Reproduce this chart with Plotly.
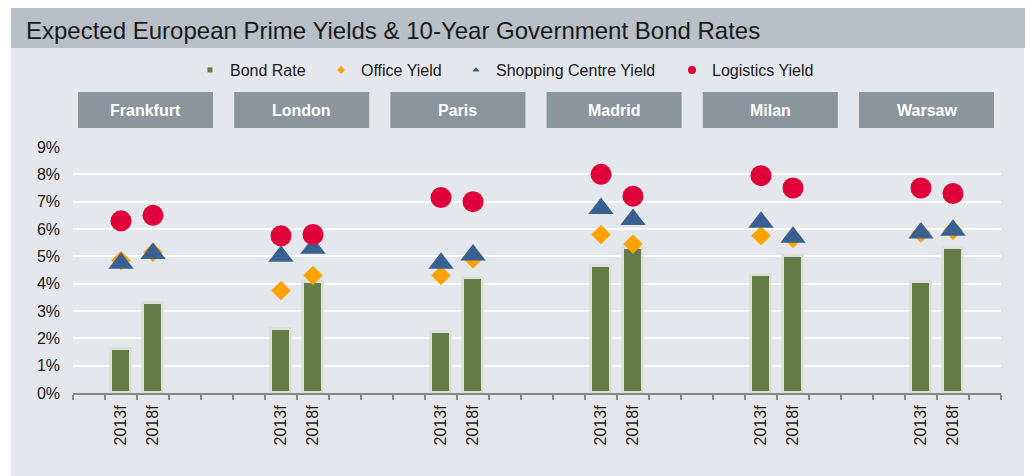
import plotly.graph_objects as go

# ---- data -------------------------------------------------------------
cities = ["Frankfurt", "London", "Paris", "Madrid", "Milan", "Warsaw"]
periods = ["2013f", "2018f"]

# values in percent, ordered city by city, 2013f then 2018f
bond_rate = [1.6, 3.3, 2.35, 4.05, 2.25, 4.2, 4.65, 5.3, 4.3, 5.0, 4.05, 5.3]
office_yield = [4.85, 5.15, 3.75, 4.3, 4.3, 4.9, 5.8, 5.45, 5.75, 5.65, 5.85, 5.95]
shopping_centre_yield = [4.75, 5.1, 5.0, 5.3, 4.75, 5.05, 6.75, 6.35, 6.25, 5.7, 5.85, 5.95]
logistics_yield = [6.3, 6.5, 5.75, 5.8, 7.15, 7.0, 8.0, 7.2, 7.95, 7.5, 7.5, 7.3]

y_ticks = [0, 1, 2, 3, 4, 5, 6, 7, 8, 9]
y_tick_labels = [f"{v}%" for v in y_ticks]

# ---- styling ----------------------------------------------------------
FONT = "Liberation Sans, Arial, sans-serif"
GREEN = "#647d46"
GLOW = "#dce1dc"
ORANGE = "#ffa200"
BLUE = "#386191"
RED = "#e0003a"
AXIS = "#8c8580"
PANEL = "#e4e7ec"
TITLE_BAR = "#b8bfc6"
CITY_BOX = "#8a959e"
TEXT = "#1a1a1a"

W, H = 1027, 476
ML, MR, MT, MB = 73, 26, 147, 83
PW, PH = W - ML - MR, H - MT - MB


def px_x(x):
    return (x - ML) / PW


def px_y(y):
    return (H - MB - y) / PH


# each city occupies five slots: spacer, 2013f, 2018f, spacer, spacer
SLOTS = 5
x_pos = [SLOTS * g + k + 1 for g in range(len(cities)) for k in range(len(periods))]
x_labels = periods * len(cities)
n_slots = SLOTS * len(cities) - 1

fig = go.Figure()

fig.add_bar(
    x=x_pos, y=bond_rate, width=0.62, name="Bond Rate",
    marker=dict(color=GREEN, line=dict(color=GLOW, width=3)),
    showlegend=False,
)
fig.add_scatter(
    x=x_pos, y=office_yield, mode="markers", name="Office Yield",
    marker=dict(symbol="diamond", size=15, color=ORANGE, line=dict(width=0)),
    showlegend=False,
)
fig.add_scatter(
    x=x_pos, y=shopping_centre_yield, mode="markers", name="Shopping Centre Yield",
    marker=dict(symbol="triangle-up", size=22, color=BLUE, line=dict(width=0)),
    showlegend=False,
)
fig.add_scatter(
    x=x_pos, y=logistics_yield, mode="markers", name="Logistics Yield",
    marker=dict(symbol="circle", size=21, color=RED, line=dict(width=0)),
    showlegend=False,
)

# legend entries, each in its own legend so they can be spaced freely
legend_items = [
    ("Bond Rate", "square", 5, GREEN, "legend", 231),
    ("Office Yield", "diamond", 6, ORANGE, "legend2", 362),
    ("Shopping Centre Yield", "triangle-up", 6, BLUE, "legend3", 497),
    ("Logistics Yield", "circle", 8, RED, "legend4", 713),
]
legend_layout = {}
for name, sym, size, color, leg, text_px in legend_items:
    fig.add_scatter(
        x=[None], y=[None], mode="markers", name=name, legend=leg,
        marker=dict(symbol=sym, size=size, color=color, line=dict(width=0)),
    )
    legend_layout[leg] = dict(
        x=px_x(text_px - 41), xanchor="left",
        y=px_y(70), yanchor="middle",
        orientation="h", bgcolor="rgba(0,0,0,0)", borderwidth=0,
        font=dict(family=FONT, size=16, color=TEXT),
    )

shapes = [
    dict(type="rect", xref="paper", yref="paper",
         x0=px_x(11), x1=px_x(1024), y0=px_y(476), y1=px_y(48),
         fillcolor=PANEL, line=dict(width=0), layer="below"),
    dict(type="rect", xref="paper", yref="paper",
         x0=px_x(11), x1=px_x(1025), y0=px_y(48), y1=px_y(8),
         fillcolor=TITLE_BAR, line=dict(width=0), layer="below"),
]
annotations = []
for i, city in enumerate(cities):
    left = 78 + i * 156.2
    shapes.append(dict(
        type="rect", xref="paper", yref="paper",
        x0=px_x(left), x1=px_x(left + 135), y0=px_y(128), y1=px_y(92),
        fillcolor=CITY_BOX, line=dict(width=0), layer="below",
    ))
    annotations.append(dict(
        xref="paper", yref="paper", x=px_x(left + 67.5), y=px_y(110.5),
        text=f"<b>{city}</b>", showarrow=False, xanchor="center", yanchor="middle",
        font=dict(family=FONT, size=16, color="white"),
    ))

fig.update_layout(
    width=W, height=H,
    margin=dict(l=ML, r=MR, t=MT, b=MB, pad=0),
    paper_bgcolor="white",
    plot_bgcolor="rgba(0,0,0,0)",
    font=dict(family=FONT, color=TEXT),
    title=dict(
        text="Expected European Prime Yields & 10-Year Government Bond Rates",
        xref="container", yref="container", x=26 / W, xanchor="left",
        y=1 - 31 / H, yanchor="middle",
        font=dict(family=FONT, size=24, color=TEXT),
    ),
    shapes=shapes,
    annotations=annotations,
    bargap=0,
    xaxis=dict(
        range=[-0.5, n_slots - 0.5],
        tickmode="array", tickvals=x_pos, ticktext=x_labels,
        tickangle=-90, ticks="", ticklabelstandoff=4,
        tickfont=dict(family=FONT, size=16, color=TEXT),
        showgrid=False, zeroline=False,
        showline=True, linecolor=AXIS, linewidth=2,
        minor=dict(tickmode="linear", tick0=-0.5, dtick=1, ticks="outside",
                   ticklen=5, tickwidth=2, tickcolor=AXIS, showgrid=False),
    ),
    yaxis=dict(
        range=[0, 9], tickmode="array", tickvals=y_ticks, ticktext=y_tick_labels,
        tickfont=dict(family=FONT, size=16, color=TEXT),
        showgrid=True, gridcolor="white", gridwidth=2,
        zeroline=False, showline=False, ticks="", ticklabelstandoff=12,
    ),
    **legend_layout,
)

fig.write_html("out.html")
